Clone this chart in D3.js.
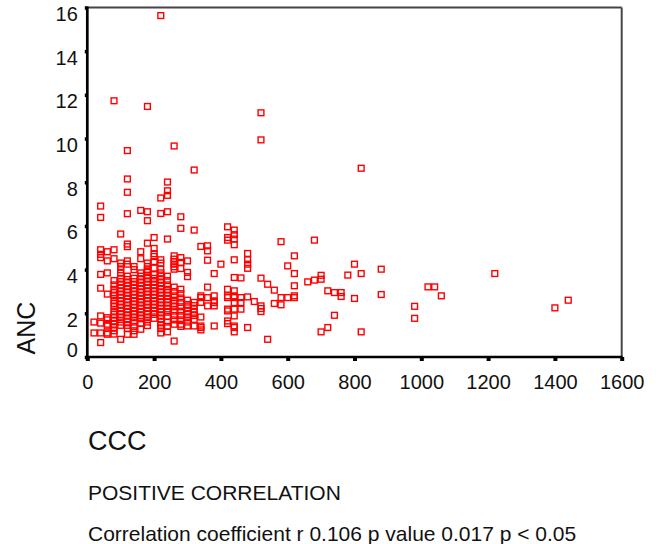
<!DOCTYPE html>
<html lang="en">
    <head>
        <meta charset="utf-8">
        <title>ANC vs CCC</title>
        <script type="text/javascript" src="https://cdn.jsdelivr.net/npm/d3@7"></script>
        <style type="text/css">
        body { margin: 0; background: #fff; }
        svg text { font-family: "Liberation Sans", Arial, sans-serif; fill: #111; }
        </style>
    </head>
    <body>
        <div id="drawing"></div>
        <script type="text/javascript">
            // axis ticks
            var xTicks = [0, 200, 400, 600, 800, 1000, 1200, 1400, 1600];
            var yTicks = [0, 2, 4, 6, 8, 10, 12, 14, 16];

            // text
            var xTitle = "CCC";
            var yTitle = "ANC";
            var note1 = "POSITIVE CORRELATION";
            var note2 = "Correlation coefficient r 0.106 p value 0.017 p < 0.05";

            // [CCC, ANC], one line per CCC value
            var points = [
                [20, 1.6], [20, 1.1],
                [40, 6.91], [40, 6.39], [40, 4.91], [40, 4.7], [40, 4.55], [40, 3.78], [40, 3.15], [40, 1.88], [40, 1.55], [40, 1.1], [40, 0.66],
                [60, 4.82], [60, 4.4], [60, 3.85], [60, 2.88], [60, 1.8], [60, 1.7], [60, 1.5], [60, 1.42], [60, 1.1], [60, 1.04],
                [80, 11.73], [80, 4.91], [80, 4.5], [80, 3.5], [80, 3.3], [80, 3.1], [80, 2.95], [80, 2.8], [80, 2.6], [80, 2.45], [80, 2.3], [80, 2.1], [80, 1.95], [80, 1.8], [80, 1.65], [80, 1.5], [80, 1.35], [80, 1.2], [80, 1.05],
                [100, 5.63], [100, 4.3], [100, 4.14], [100, 3.99], [100, 3.84], [100, 3.6], [100, 3.45], [100, 3.3], [100, 3.15], [100, 3.0], [100, 2.85], [100, 2.7], [100, 2.55], [100, 2.4], [100, 2.25], [100, 2.1], [100, 1.95], [100, 1.8], [100, 1.6], [100, 1.45], [100, 0.81],
                [120, 9.45], [120, 8.15], [120, 7.54], [120, 6.56], [120, 5.17], [120, 5.05], [120, 4.4], [120, 4.25], [120, 3.7], [120, 3.55], [120, 3.4], [120, 3.25], [120, 3.1], [120, 2.95], [120, 2.8], [120, 2.65], [120, 2.5], [120, 2.35], [120, 2.2], [120, 2.05], [120, 1.9], [120, 1.75], [120, 1.6], [120, 1.45], [120, 1.3], [120, 1.04],
                [140, 4.14], [140, 4.0], [140, 3.6], [140, 3.45], [140, 3.3], [140, 3.15], [140, 3.0], [140, 2.85], [140, 2.7], [140, 2.55], [140, 2.4], [140, 2.25], [140, 2.1], [140, 1.95], [140, 1.8], [140, 1.6], [140, 1.4], [140, 1.2], [140, 1.04],
                [160, 6.71], [160, 4.82], [160, 4.5], [160, 3.85], [160, 3.7], [160, 3.55], [160, 3.4], [160, 3.25], [160, 3.1], [160, 2.95], [160, 2.8], [160, 2.65], [160, 2.5], [160, 2.35], [160, 2.2], [160, 2.05], [160, 1.9], [160, 1.75], [160, 1.55], [160, 1.27],
                [180, 11.47], [180, 6.65], [180, 6.24], [180, 5.21], [180, 4.3], [180, 4.14], [180, 3.99], [180, 3.92], [180, 3.75], [180, 3.6], [180, 3.45], [180, 3.3], [180, 3.15], [180, 3.0], [180, 2.85], [180, 2.7], [180, 2.55], [180, 2.4], [180, 2.25], [180, 2.1], [180, 1.95], [180, 1.8], [180, 1.6], [180, 1.44],
                [200, 5.47], [200, 4.97], [200, 4.73], [200, 4.6], [200, 4.37], [200, 4.07], [200, 3.77], [200, 3.6], [200, 3.45], [200, 3.3], [200, 3.15], [200, 3.0], [200, 2.85], [200, 2.7], [200, 2.55], [200, 2.4], [200, 2.25], [200, 2.1], [200, 1.95], [200, 1.77],
                [220, 15.63], [220, 7.28], [220, 6.57], [220, 4.45], [220, 4.3], [220, 4.02], [220, 3.85], [220, 3.7], [220, 3.55], [220, 3.4], [220, 3.25], [220, 3.1], [220, 2.95], [220, 2.8], [220, 2.65], [220, 2.5], [220, 2.35], [220, 2.2], [220, 2.05], [220, 1.9], [220, 1.75], [220, 1.6], [220, 1.45], [220, 1.3], [220, 1.1],
                [240, 8.01], [240, 7.61], [240, 7.4], [240, 6.65], [240, 5.4], [240, 3.7], [240, 3.5], [240, 3.3], [240, 3.1], [240, 2.95], [240, 2.8], [240, 2.65], [240, 2.5], [240, 2.35], [240, 2.2], [240, 2.05], [240, 1.85], [240, 1.6], [240, 1.4], [240, 1.15],
                [260, 9.66], [260, 4.63], [260, 4.48], [260, 4.37], [260, 4.25], [260, 4.13], [260, 4.02], [260, 3.2], [260, 3.0], [260, 2.8], [260, 2.6], [260, 2.45], [260, 2.3], [260, 2.1], [260, 1.9], [260, 1.7], [260, 1.5], [260, 0.73],
                [280, 6.42], [280, 5.89], [280, 4.55], [280, 4.33], [280, 4.05], [280, 3.1], [280, 2.9], [280, 2.7], [280, 2.5], [280, 2.3], [280, 2.1], [280, 1.9], [280, 1.7], [280, 1.5], [280, 1.4],
                [300, 4.4], [300, 3.87], [300, 3.68], [300, 2.6], [300, 2.4], [300, 2.25], [300, 2.1], [300, 1.95], [300, 1.8], [300, 1.6], [300, 1.42],
                [320, 8.56], [320, 5.81], [320, 2.5], [320, 2.35], [320, 2.2], [320, 2.05], [320, 1.9], [320, 1.72], [320, 1.42],
                [340, 5.06], [340, 2.8], [340, 2.72], [340, 2.5], [340, 1.83], [340, 1.42], [340, 1.35], [340, 1.24],
                [360, 5.09], [360, 4.86], [360, 4.43], [360, 3.2], [360, 2.72], [360, 2.34],
                [380, 3.82], [380, 2.8], [380, 2.57], [380, 2.49], [380, 2.34], [380, 1.42],
                [400, 4.25],
                [420, 5.96], [420, 5.47], [420, 5.35], [420, 3.1], [420, 2.8], [420, 2.72], [420, 2.19], [420, 2.11], [420, 1.65], [420, 1.53],
                [440, 5.81], [440, 5.6], [440, 5.4], [440, 5.14], [440, 4.45], [440, 3.64], [440, 3.03], [440, 2.8], [440, 2.72], [440, 2.49], [440, 2.19], [440, 1.88], [440, 1.42], [440, 1.35], [440, 1.15],
                [460, 3.62], [460, 2.72], [460, 2.49], [460, 2.19],
                [480, 4.74], [480, 4.45], [480, 4.25], [480, 4.06], [480, 2.75], [480, 1.35],
                [500, 2.54],
                [520, 11.18], [520, 9.94], [520, 3.61], [520, 2.34], [520, 2.22], [520, 2.08],
                [540, 3.33], [540, 0.81],
                [560, 3.06], [560, 2.45],
                [580, 5.28], [580, 2.72], [580, 2.39],
                [600, 4.17], [600, 2.72],
                [620, 4.63], [620, 3.82], [620, 3.26], [620, 2.8], [620, 2.72],
                [660, 3.44],
                [680, 5.35], [680, 3.52],
                [700, 3.74], [700, 3.56], [700, 1.15],
                [720, 3.03], [720, 1.35],
                [740, 2.95], [740, 1.91],
                [760, 2.95], [760, 2.77],
                [780, 3.75],
                [800, 4.25], [800, 2.68],
                [820, 8.64], [820, 3.82], [820, 1.15],
                [880, 4.02], [880, 2.86],
                [980, 2.32], [980, 1.77],
                [1020, 3.21], [1040, 3.21], [1060, 2.8],
                [1220, 3.82],
                [1400, 2.25], [1440, 2.6]
            ];

            var svg = d3.select("#drawing")
                .append("svg")
                .attr("width", 661)
                .attr("height", 544);

            var x = d3.scaleLinear().domain([0, 1600]).range([87.3, 621.7]);
            var y = d3.scaleLinear().domain([0, 16]).range([357, 7.5]);

            // frame: grey on top and right
            svg.append("line")
                .attr("x1", x(0)).attr("x2", x(1600))
                .attr("y1", y(16)).attr("y2", y(16))
                .style("stroke", "#454545").style("stroke-width", 2);
            svg.append("line")
                .attr("x1", x(1600)).attr("x2", x(1600))
                .attr("y1", y(16)).attr("y2", y(0))
                .style("stroke", "#454545").style("stroke-width", 2);

            // points
            var s = 5.8;
            svg.append("g").selectAll("rect")
                .data(points)
                .enter().append("rect")
                .attr("x", function(d) { return x(d[0]) - s/2; })
                .attr("y", function(d) { return y(d[1]) - s/2; })
                .attr("width", s)
                .attr("height", s)
                .style("fill", "none")
                .style("stroke", "#ff0000")
                .style("stroke-width", 1.4);

            // bottom axis
            var xAxis = svg.append("g")
                .attr("transform", "translate(0," + y(0) + ")")
                .call(d3.axisBottom(x).tickValues(xTicks).tickSize(4).tickPadding(13.8).tickFormat(d3.format("d")));
            xAxis.select(".domain").attr("d", "M" + (x(0) - 1.3) + ",0H" + (x(1600) + 1)).style("stroke", "#000").style("stroke-width", 2.7);
            xAxis.selectAll(".tick line").style("stroke", "#000").style("stroke-width", 4);
            xAxis.selectAll(".tick text").style("font-size", "20px").style("fill", "#111");

            // left axis
            var yAxis = svg.append("g")
                .attr("transform", "translate(" + x(0) + ",0)")
                .call(d3.axisLeft(y).tickValues(yTicks).tickSize(2.5).tickPadding(7));
            yAxis.select(".domain").attr("d", "M0," + (y(16) - 1) + "V" + (y(0) + 1.3)).style("stroke", "#000").style("stroke-width", 2.7);
            yAxis.selectAll(".tick line").style("stroke", "#000").style("stroke-width", 3.5);
            yAxis.selectAll(".tick text")
                .style("font-size", "20px").style("fill", "#111")
                .attr("y", function(d) { return d === 0 ? -6.5 : 6.5; });

            // titles
            svg.append("text")
                .attr("transform", "translate(35,328) rotate(-90)")
                .attr("text-anchor", "middle")
                .style("font-size", "25px")
                .text(yTitle);

            svg.append("text")
                .attr("x", 88).attr("y", 450)
                .style("font-size", "27px")
                .text(xTitle);

            svg.append("text")
                .attr("x", 88).attr("y", 500)
                .style("font-size", "21px")
                .text(note1);

            svg.append("text")
                .attr("x", 88).attr("y", 541)
                .style("font-size", "21px")
                .text(note2);
        </script>
    </body>
</html>
